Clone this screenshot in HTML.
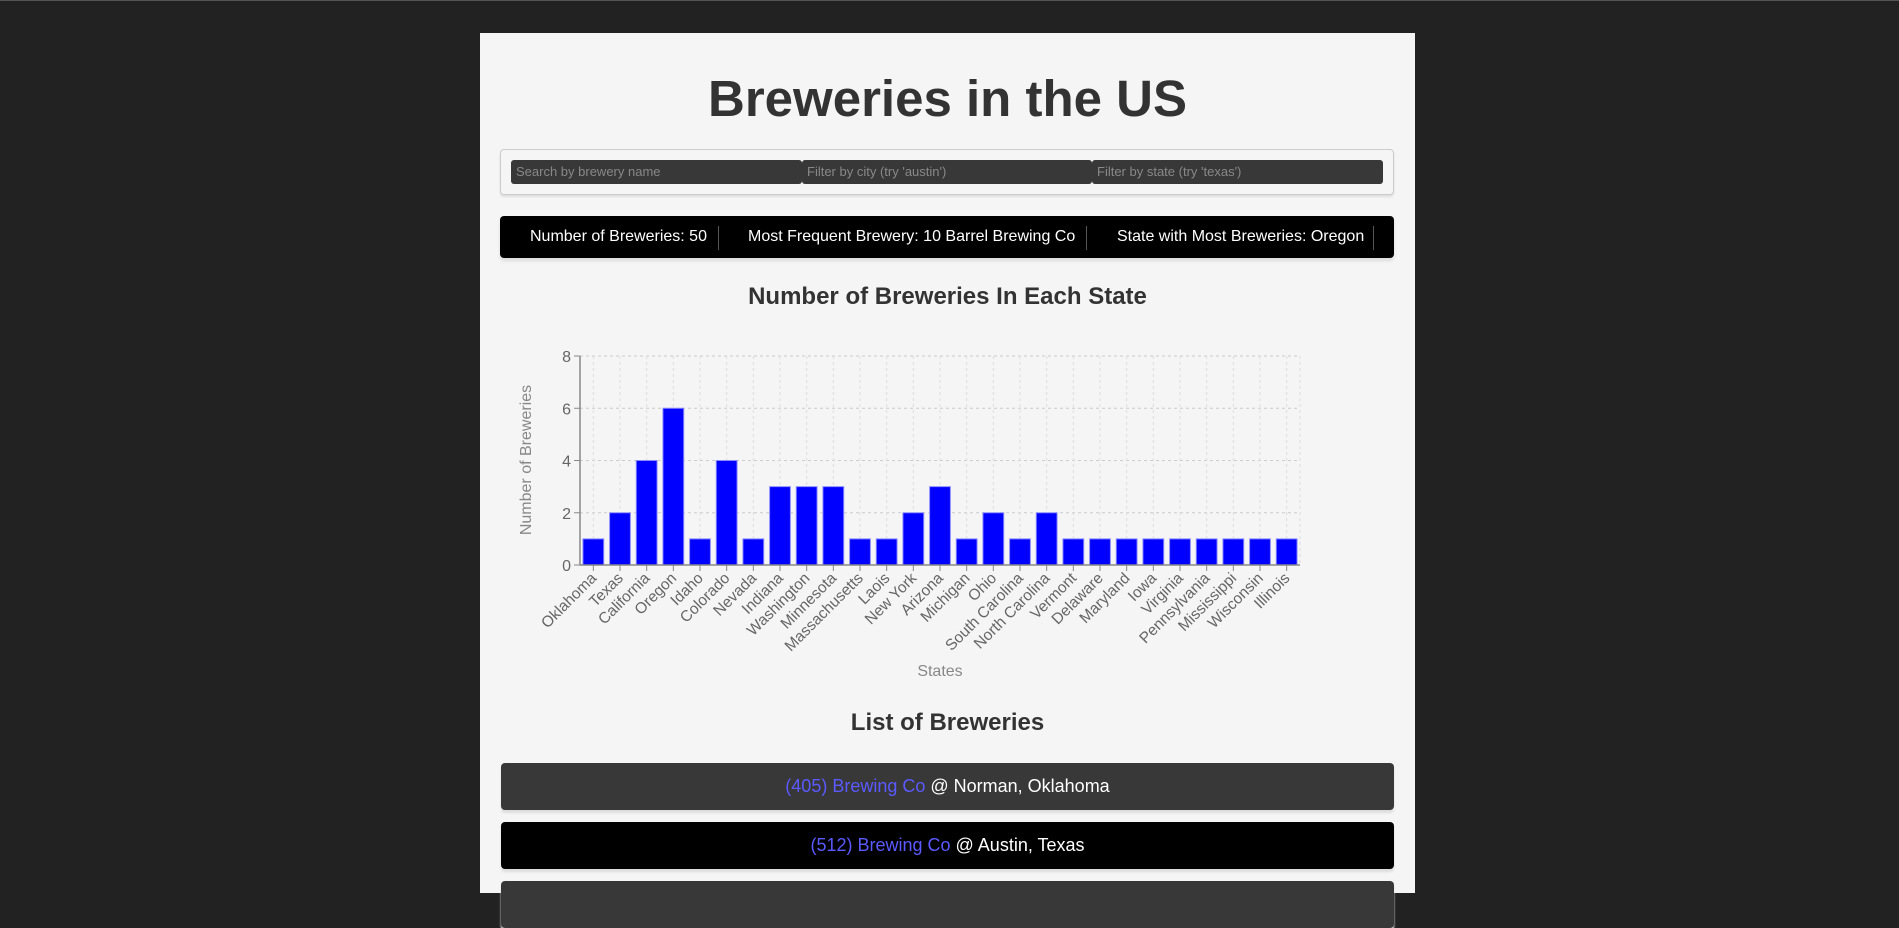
<!DOCTYPE html>
<html><head><meta charset="utf-8"><style>
body{margin:0;width:1899px;height:893px;background:#222;overflow:hidden;font-family:"Liberation Sans",Arial,sans-serif;position:relative}
.abs{position:absolute}
#panel{left:480px;top:33px;width:935px;height:860px;background:#f5f5f5}
h1{position:absolute;left:480px;width:935px;top:66px;margin:0;text-align:center;font-size:51px;line-height:66px;color:#333;font-weight:bold}
#search{left:500px;top:149px;width:892px;height:44px;border:1px solid #ccc;border-radius:4px;box-shadow:0 2px 2px #ddd;background:#f5f5f5}
.inp{position:absolute;top:160px;height:24px;background:#383838;border-radius:3px;color:#888;font-size:13px;line-height:24px;padding-left:5px;box-sizing:border-box}
#stats{left:500px;top:216px;width:894px;height:42px;background:#000;border-radius:4px;box-shadow:0 3px 3px #ddd}
.st{position:absolute;top:216px;height:42px;line-height:42px;color:#fff;font-size:16px;white-space:nowrap}
.dv{position:absolute;top:226px;width:1px;height:24px;background:#555}
.ttl{position:absolute;left:480px;width:935px;text-align:center;font-weight:bold;color:#333}
.item{position:absolute;left:501px;width:893px;height:47px;border-radius:4px;text-align:center;line-height:47px;font-size:18px;color:#fff;box-shadow:0 3px 2px #ddd}
.item a{color:#5a5aff;text-decoration:none}
</style></head><body>
<div class="abs" style="left:0;top:0;width:1899px;height:1px;background:#555"></div>
<div id="panel" class="abs"></div>
<h1>Breweries in the US</h1>
<div id="search" class="abs"></div>
<div class="inp" style="left:511px;width:291px">Search by brewery name</div>
<div class="inp" style="left:802px;width:290px">Filter by city (try 'austin')</div>
<div class="inp" style="left:1092px;width:291px">Filter by state (try 'texas')</div>
<div id="stats" class="abs"></div>
<div class="st" style="left:530px">Number of Breweries: 50</div>
<div class="dv" style="left:718px"></div>
<div class="st" style="left:748px">Most Frequent Brewery: 10 Barrel Brewing Co</div>
<div class="dv" style="left:1086px"></div>
<div class="st" style="left:1117px">State with Most Breweries: Oregon</div>
<div class="dv" style="left:1373px"></div>
<div class="ttl" style="top:283px;font-size:24px;line-height:28px">Number of Breweries In Each State</div>
<svg class="abs" style="left:0;top:0" width="1899" height="893" id="chart"></svg>
<div class="ttl" style="top:709px;font-size:24px;line-height:28px">List of Breweries</div>
<div class="item" style="top:763px;background:#383838"><a>(405) Brewing Co</a> @ Norman, Oklahoma</div>
<div class="item" style="top:822px;background:#000"><a>(512) Brewing Co</a> @ Austin, Texas</div>
<div class="item" style="top:881px;background:#383838"></div>
<script>
const states=["Oklahoma","Texas","California","Oregon","Idaho","Colorado","Nevada","Indiana","Washington","Minnesota","Massachusetts","Laois","New York","Arizona","Michigan","Ohio","South Carolina","North Carolina","Vermont","Delaware","Maryland","Iowa","Virginia","Pennsylvania","Mississippi","Wisconsin","Illinois"];
const counts=[1,2,4,6,1,4,1,3,3,3,1,1,2,3,1,2,1,2,1,1,1,1,1,1,1,1,1];
const yTicks=[0,2,4,6,8];
const NS="http://www.w3.org/2000/svg";
const svg=document.getElementById('chart');
const X0=580,X1=1300,Y0=565,Y1=356,YMAX=8;
const band=(X1-X0)/states.length;
const xc=i=>X0+band*(i+0.5);
const y=v=>Y0-(v/YMAX)*(Y0-Y1);
function mk(t,a,txt){const e=document.createElementNS(NS,t);for(const k in a)e.setAttribute(k,a[k]);if(txt!==undefined)e.textContent=txt;svg.appendChild(e);return e;}
yTicks.forEach(t=>{
 if(t>0){const g=mk('line',{x1:X0,x2:X1,y1:y(t),y2:y(t),stroke:'#ccc','stroke-dasharray':'3 3'});
 
 }
 mk('line',{x1:X0-6,x2:X0,y1:y(t),y2:y(t),stroke:'#888'});
 const l=mk('text',{x:X0-9,y:y(t)+6,'text-anchor':'end','font-size':16,fill:'#666','font-family':'Liberation Sans, sans-serif'},t);
 
 
});
states.forEach((s,i)=>{
 const g=mk('line',{x1:xc(i),x2:xc(i),y1:Y1,y2:Y0,stroke:'#ddd','stroke-dasharray':'3 3'});
 
 
});
mk('line',{x1:X1,x2:X1,y1:Y1,y2:Y0,stroke:'#ddd','stroke-dasharray':'3 3'});
states.forEach((s,i)=>{
 const w=band*0.78;
 const b=mk('rect',{x:xc(i)-w/2,y:y(counts[i]),width:w,height:Y0-y(counts[i]),fill:'#0000ff',stroke:'#8c8cff','stroke-width':1});
 
 
 mk('line',{x1:xc(i),x2:xc(i),y1:Y0,y2:Y0+6,stroke:'#888'});
 const t=mk('text',{x:xc(i)+4,y:Y0+14,'text-anchor':'end','font-size':15.5,fill:'#666','font-family':'Liberation Sans, sans-serif',transform:`rotate(-45 ${xc(i)+4} ${Y0+14})`},s);
 
 
});
mk('line',{x1:X0,x2:X0,y1:Y1,y2:Y0,stroke:'#888','stroke-width':1.5});
mk('line',{x1:X0,x2:X1,y1:Y0,y2:Y0,stroke:'#888','stroke-width':1.5});
const yl=mk('text',{x:526,y:460,'text-anchor':'middle','font-size':16,fill:'#888','font-family':'Liberation Sans, sans-serif',transform:'rotate(-90 526 460)',dy:5},'Number of Breweries');


const xl=mk('text',{x:940,y:676,'text-anchor':'middle','font-size':16,fill:'#888','font-family':'Liberation Sans, sans-serif'},'States');


</script>
</body></html>
